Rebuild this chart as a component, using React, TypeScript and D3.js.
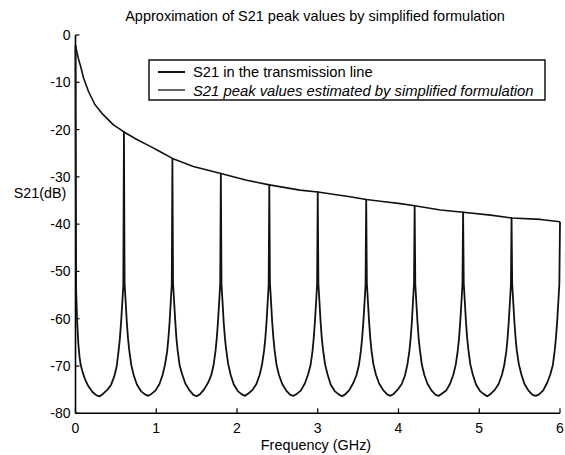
import * as d3 from 'd3'

// envelope: S21 peak values estimated by the simplified formulation
const envFreq = [0, 0.02, 0.04, 0.06, 0.1, 0.16, 0.24, 0.34, 0.47, 0.6, 0.76, 0.92, 1.05, 1.2, 1.46, 1.8, 2.12, 2.4, 2.78, 3.0, 3.4, 3.6, 3.8, 4.0, 4.2, 4.52, 4.8, 5.14, 5.4, 5.76, 6.0]
const envDb = [-2.2, -3.8, -5.3, -6.4, -9.1, -11.9, -14.7, -16.8, -19.0, -20.5, -22.1, -23.5, -24.7, -26.1, -27.8, -29.3, -30.7, -31.7, -32.8, -33.2, -34.2, -34.8, -35.2, -35.6, -36.1, -37.0, -37.5, -38.1, -38.7, -39.0, -39.5]

// transmission line response: resonance peaks and the dB values between them
const peakFreq = [0, 0.6, 1.2, 1.8, 2.4, 3.0, 3.6, 4.2, 4.8, 5.4, 6.0]
const peakDb = [-2.2, -20.5, -26.1, -29.3, -31.7, -33.2, -34.8, -36.1, -37.5, -38.7, -39.5]
// offsets (GHz) after each peak at which the segment below was read
const segOffsets = [0.008, 0.02, 0.035, 0.05, 0.065, 0.09, 0.12, 0.16, 0.21, 0.26, 0.3, 0.34, 0.39, 0.44, 0.48, 0.51, 0.535, 0.55, 0.565, 0.58, 0.592]
const segDb = [
  [-54, -60.5, -65.2, -68.1, -69.8, -71.4, -72.9, -74.3, -75.5, -76.2, -76.4, -75.9, -75.1, -74.0, -72.2, -70.1, -66.6, -64.1, -60.6, -56.4, -53.0],
  [-52.6, -56.1, -60.6, -64.1, -66.6, -69.7, -71.9, -73.9, -75.3, -76.0, -76.3, -75.9, -75.2, -73.8, -71.8, -69.6, -66.9, -64.2, -60.8, -56.3, -52.8],
  [-52.4, -56.0, -60.4, -64.2, -66.7, -69.9, -71.7, -73.7, -75.1, -76.1, -76.4, -76.0, -75.0, -73.6, -72.0, -69.8, -66.7, -64.0, -60.5, -56.2, -52.6],
  [-52.7, -56.2, -60.7, -64.0, -66.4, -69.5, -71.8, -73.9, -75.3, -76.0, -76.3, -75.8, -75.1, -73.8, -71.9, -69.7, -66.8, -64.3, -60.9, -56.5, -52.9],
  [-52.5, -55.9, -60.5, -63.9, -66.6, -69.8, -71.9, -73.8, -75.2, -76.1, -76.3, -75.9, -75.2, -73.7, -71.8, -69.9, -66.9, -64.1, -60.7, -56.3, -52.7],
  [-52.6, -56.1, -60.6, -64.1, -66.5, -69.6, -71.7, -73.9, -75.3, -76.0, -76.4, -76.0, -75.1, -73.6, -71.9, -69.8, -66.7, -64.0, -60.6, -56.4, -52.8],
  [-52.4, -56.0, -60.4, -64.0, -66.7, -69.7, -71.8, -73.7, -75.1, -76.0, -76.3, -75.9, -75.0, -73.8, -72.0, -69.7, -66.8, -64.2, -60.8, -56.2, -52.6],
  [-52.7, -56.3, -60.7, -64.2, -66.6, -69.8, -71.9, -73.8, -75.2, -76.1, -76.3, -75.8, -75.2, -73.7, -71.8, -69.6, -66.6, -64.1, -60.5, -56.3, -52.7],
  [-52.5, -56.0, -60.5, -64.0, -66.5, -69.7, -71.8, -73.9, -75.3, -76.0, -76.4, -75.9, -75.1, -73.8, -71.9, -69.8, -66.9, -64.3, -60.7, -56.4, -52.8],
  [-52.6, -56.2, -60.6, -64.1, -66.7, -69.6, -71.7, -73.8, -75.2, -76.1, -76.3, -76.0, -75.2, -73.6, -71.8, -69.9, -66.7, -64.0, -60.6, -56.2, -52.6],
]

const yTicks = [0, -10, -20, -30, -40, -50, -60, -70, -80]
const xTicks = [0, 1, 2, 3, 4, 5, 6]

const W = 565
const H = 455
const FONT = '"Liberation Sans", Arial, sans-serif'

export default function App() {
  const x = d3.scaleLinear().domain([0, 6]).range([75.5, 560])
  const y = d3.scaleLinear().domain([-80, 0]).range([413.3, 35])

  const envelope: [number, number][] = envFreq.map((f, i) => [f, envDb[i]])

  const response: [number, number][] = []
  peakFreq.forEach((p, k) => {
    response.push([p, peakDb[k]])
    if (k < segDb.length) {
      segOffsets.forEach((o, j) => response.push([p + o, segDb[k][j]]))
    }
  })

  const line = d3.line<[number, number]>()
    .x(d => x(d[0]))
    .y(d => y(d[1]))

  const [x0, x1] = x.range()
  const [yb, yt] = y.range()

  return (
    <svg width={W} height={H} style={{ position: 'absolute', left: 0, top: 0, background: '#fff' }}
      fontFamily={FONT}>
      <text x={315} y={21} textAnchor="middle" fontSize={14.5}>
        Approximation of S21 peak values by simplified formulation
      </text>

      {/* axes, MATLAB style inward ticks, no box */}
      <line x1={x0} x2={x0} y1={yt} y2={yb} stroke="#000" strokeWidth={1.6} />
      <line x1={x0} x2={x1} y1={yb} y2={yb} stroke="#000" strokeWidth={1.6} />
      {yTicks.map(t => (
        <g key={'y' + t}>
          <line x1={x0} x2={x0 + 4} y1={y(t)} y2={y(t)} stroke="#000" strokeWidth={1.2} />
          <text x={x0 - 5} y={y(t) + 5} textAnchor="end" fontSize={14}>{t}</text>
        </g>
      ))}
      {xTicks.map(t => (
        <g key={'x' + t}>
          <line x1={x(t)} x2={x(t)} y1={yb} y2={yb - 5} stroke="#000" strokeWidth={1.2} />
          <text x={x(t)} y={433} textAnchor="middle" fontSize={14}>{t}</text>
        </g>
      ))}
      <text x={40} y={198} textAnchor="middle" fontSize={14.3}>S21(dB)</text>
      <text x={316} y={450} textAnchor="middle" fontSize={14.4}>Frequency (GHz)</text>

      <path d={line(response) ?? ''} fill="none" stroke="#111" strokeWidth={1.8} strokeLinejoin="round" />
      <path d={line(envelope) ?? ''} fill="none" stroke="#111" strokeWidth={1.6} strokeLinejoin="round" />

      {/* legend */}
      <rect x={149} y={60} width={396} height={40} fill="#fff" stroke="#000" strokeWidth={1.4} />
      <line x1={158} x2={185} y1={72} y2={72} stroke="#111" strokeWidth={2} />
      <text x={193} y={77} fontSize={14.7}>S21 in the transmission line</text>
      <line x1={158} x2={185} y1={90} y2={90} stroke="#111" strokeWidth={1.3} />
      <text x={193} y={95.5} fontSize={14.8} fontStyle="italic">S21 peak values estimated by simplified formulation</text>
    </svg>
  )
}
